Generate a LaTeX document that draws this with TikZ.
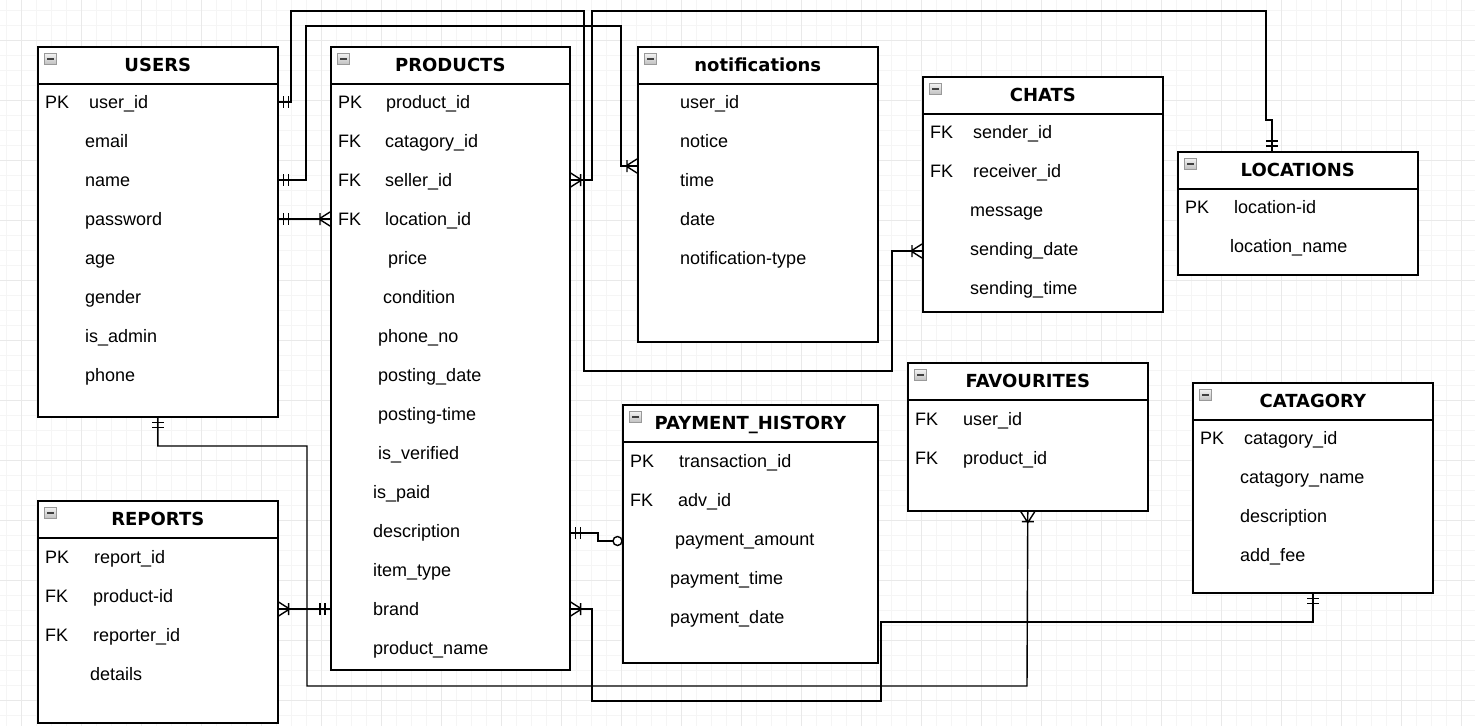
\documentclass[tikz,border=0pt]{standalone}
\usepackage{fontspec}
\setmainfont{Liberation Sans}
\newfontfamily\titlefont{DejaVu Sans}
\usetikzlibrary{calc}

\tikzset{
 tbl/.style={draw=black, line width=1.6pt, fill=white, rectangle, inner sep=0pt, anchor=north west},
 ttl/.style={font=\titlefont\bfseries\fontsize{18}{20}\selectfont, anchor=base, inner sep=0pt},
 attr/.style={font=\fontsize{18}{20}\selectfont, anchor=west, inner sep=0pt, text height=13pt, text depth=0pt},
 conn/.style={line width=1.4pt, black},
 mk/.style={line width=1.4pt, black},
 minusicon/.style={draw=gray!80, top color=gray!10, bottom color=gray!50, minimum width=12pt, minimum height=11pt, inner sep=0pt, line width=0.7pt},
 gridminor/.style={draw=gray!8, line width=0.8pt},
 gridmajor/.style={draw=gray!17, line width=0.9pt},
}

\newcommand\erTab[6]{%
 \node[tbl, minimum width=#4pt, minimum height=#5pt] (#1) at (#2,#3) {};
 \draw[line width=1.6pt] ([yshift=-38pt]#1.north west) -- ([yshift=-38pt]#1.north east);
 \node[minusicon] (#1m) at ([xshift=13.5pt,yshift=-13pt]#1.north west) {};
 \draw[line width=1.3pt, black!75] ([xshift=-3.5pt]#1m.center) -- ([xshift=3.5pt]#1m.center);
 \node[ttl] (#1t) at ([yshift=-25.5pt]#1.north) {#6};
}
\newcommand\erAttr[4]{\node[attr] (#1) at (#2,#3) {#4};}
\newcommand\mkOne[2]{\begin{scope}[shift={(#1)},rotate=#2]\draw[mk] (5,-6)--(5,6) (10,-6)--(10,6);\end{scope}}
\newcommand\mkMany[2]{\begin{scope}[shift={(#1)},rotate=#2]\draw[mk] (0,-7)--(11,0)--(0,7) (10,-6)--(10,6);\end{scope}}

\begin{document}
\begin{tikzpicture}[x=1pt,y=-1pt]
\useasboundingbox (0,0) rectangle (1475,726);
\fill[white] (0,0) rectangle (1475,726);
% grid
\foreach \x in {6.7,21.7,...,1475} \draw[gridminor] (\x,0) -- (\x,726);
\foreach \y in {10.7,25.7,...,726} \draw[gridminor] (0,\y) -- (1475,\y);
\foreach \x in {21.7,81.7,...,1475} \draw[gridmajor] (\x,0) -- (\x,726);
\foreach \y in {40.7,100.7,...,726} \draw[gridmajor] (0,\y) -- (1475,\y);

% ---------- tables ----------
\erTab{users}{37}{46}{240}{370}{USERS}
\erAttr{usrk}{45}{102}{PK}
\erAttr{usr1}{89}{102}{user\_id}
\erAttr{usr2}{85}{141}{email}
\erAttr{usr3}{85}{180}{name}
\erAttr{usr4}{85}{219}{password}
\erAttr{usr5}{85}{258}{age}
\erAttr{usr6}{85}{297}{gender}
\erAttr{usr7}{85}{336}{is\_admin}
\erAttr{usr8}{85}{375}{phone}

\erTab{prod}{330}{46}{239}{623}{PRODUCTS}
\erAttr{prk1}{338}{102}{PK}
\erAttr{prk2}{338}{141}{FK}
\erAttr{prk3}{338}{180}{FK}
\erAttr{prk4}{338}{219}{FK}
\erAttr{prd1}{386}{102}{product\_id}
\erAttr{prd2}{385}{141}{catagory\_id}
\erAttr{prd3}{385}{180}{seller\_id}
\erAttr{prd4}{385}{219}{location\_id}
\erAttr{prd5}{388}{258}{price}
\erAttr{prd6}{383}{297}{condition}
\erAttr{prd7}{378}{336}{phone\_no}
\erAttr{prd8}{378}{375}{posting\_date}
\erAttr{prd9}{378}{414}{posting-time}
\erAttr{prd10}{378}{453}{is\_verified}
\erAttr{prd11}{373}{492}{is\_paid}
\erAttr{prd12}{373}{531}{description}
\erAttr{prd13}{373}{570}{item\_type}
\erAttr{prd14}{373}{609}{brand}
\erAttr{prd15}{373}{648}{product\_name}

\erTab{notif}{637}{46}{240}{295}{notifications}
\erAttr{nt1}{680}{102}{user\_id}
\erAttr{nt2}{680}{141}{notice}
\erAttr{nt3}{680}{180}{time}
\erAttr{nt4}{680}{219}{date}
\erAttr{nt5}{680}{258}{notification-type}

\erTab{chats}{922}{76}{240}{235}{CHATS}
\erAttr{chk1}{930}{132}{FK}
\erAttr{chk2}{930}{171}{FK}
\erAttr{cht1}{973}{132}{sender\_id}
\erAttr{cht2}{973}{171}{receiver\_id}
\erAttr{cht3}{970}{210}{message}
\erAttr{cht4}{970}{249}{sending\_date}
\erAttr{cht5}{970}{288}{sending\_time}

\erTab{loc}{1177}{151}{240}{123}{LOCATIONS}
\erAttr{lck1}{1185}{207}{PK}
\erAttr{lc1}{1234}{207}{location-id}
\erAttr{lc2}{1230}{246}{location\_name}

\erTab{fav}{907}{362}{240}{148}{FAVOURITES}
\erAttr{fvk1}{915}{419}{FK}
\erAttr{fvk2}{915}{458}{FK}
\erAttr{fv1}{963}{419}{user\_id}
\erAttr{fv2}{963}{458}{product\_id}

\erTab{cat}{1192}{382}{240}{210}{CATAGORY}
\erAttr{ctk1}{1200}{438}{PK}
\erAttr{ct1}{1244}{438}{catagory\_id}
\erAttr{ct2}{1240}{477}{catagory\_name}
\erAttr{ct3}{1240}{516}{description}
\erAttr{ct4}{1240}{555}{add\_fee}

\erTab{pay}{622}{404}{255}{258}{PAYMENT\_HISTORY}
\erAttr{pyk1}{630}{461}{PK}
\erAttr{pyk2}{630}{500}{FK}
\erAttr{py1}{679}{461}{transaction\_id}
\erAttr{py2}{678}{500}{adv\_id}
\erAttr{py3}{675}{539}{payment\_amount}
\erAttr{py4}{670}{578}{payment\_time}
\erAttr{py5}{670}{617}{payment\_date}

\erTab{rpt}{37}{500}{240}{222}{REPORTS}
\erAttr{rpk1}{45}{557}{PK}
\erAttr{rpk2}{45}{596}{FK}
\erAttr{rpk3}{45}{635}{FK}
\erAttr{rp1}{94}{557}{report\_id}
\erAttr{rp2}{93}{596}{product-id}
\erAttr{rp3}{93}{635}{reporter\_id}
\erAttr{rp4}{90}{674}{details}

% ---------- connector end points ----------
\coordinate (A0) at (users.east |- usr1);
\coordinate (A5) at ($(chats.west |- cht4)+(0,2)$);
\coordinate (B0) at (users.east |- usr3);
\coordinate (B5) at ($(notif.west |- nt3)+(0,-14)$);
\coordinate (C0) at (prod.east |- prd3);
\coordinate (C5) at ($(loc.north west)+(95,0)$);
\coordinate (D0) at (users.east |- usr4);
\coordinate (D5) at (prod.west |- prd4);
\coordinate (E0) at (users.south);
\coordinate (E5) at (fav.south);
\coordinate (F0) at (rpt.east |- prd14);
\coordinate (F5) at (prod.west |- prd14);
\coordinate (G0) at ($(prod.east |- prd12)+(0,2)$);
\coordinate (G5) at ($(pay.west |- py3)+(-4.5,2)$);
\coordinate (H0) at (prod.east |- prd14);
\coordinate (H5) at (cat.south);

% ---------- connectors ----------
\draw[conn] (A0) -| (291,11) -| (584,371) -| (892,251) -- (A5);
\draw[conn] (B0) -| (306,26) -| (621,166) -- (B5);
\draw[conn] (C0) -| (592,11) -| (1266,120) -| (C5);
\draw[conn] (D0) -- (D5);
\draw[conn] (E0) |- (307,446) |- (1027,686) -- (E5);
\draw[conn] (F0) -- (F5);
\draw[conn] (G0) -| (598,541) -- ($(G5)+(-4.5,0)$);
\draw[conn] (H0) -| (592,701) -| (881,622) -| (H5);

% ---------- markers ----------
\mkOne{A0}{0}   \mkMany{A5}{180}
\mkOne{B0}{0}   \mkMany{B5}{180}
\mkMany{C0}{0}  \mkOne{C5}{90}
\mkOne{D0}{0}   \mkMany{D5}{180}
\mkOne{E0}{-90} \mkMany{E5}{-90}
\mkMany{F0}{0}  \mkOne{F5}{180}
\mkOne{G0}{0}
\draw[mk, fill=white] (G5) circle (4.5pt);
\mkMany{H0}{0}  \mkOne{H5}{-90}
\end{tikzpicture}
\end{document}
